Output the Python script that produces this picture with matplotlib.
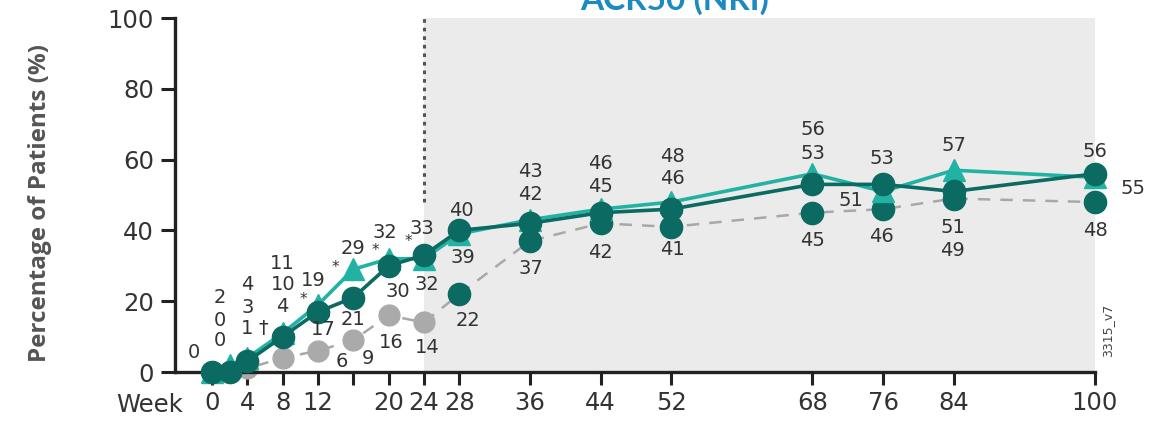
import numpy as np
import matplotlib.pyplot as plt

# ACR50 response by visit (%)
weeks = [0, 2, 4, 8, 12, 16, 20, 24, 28, 36, 44, 52, 68, 76, 84, 100]
tri_vals = [0, 2, 4, 11, 19, 29, 32, 32, 39, 43, 46, 48, 56, 51, 57, 55]
circ_vals = [0, 0, 3, 10, 17, 21, 30, 33, 40, 42, 45, 46, 53, 53, 51, 56]

pbo_weeks = [0, 2, 4, 8, 12, 16, 20, 24]
pbo_vals = [0, 0, 1, 4, 6, 9, 16, 14]

switch_weeks = [28, 36, 44, 52, 68, 76, 84, 100]
switch_vals = [22, 37, 42, 41, 45, 46, 49, 48]

xtick_pos = [0, 4, 8, 12, 16, 20, 24, 28, 36, 44, 52, 68, 76, 84, 100]
xtick_lbl = ['0', '4', '8', '12', '', '20', '24', '28', '36', '44', '52', '68', '76', '84', '100']

# label offsets in pixels from each marker (None = no label)
tri_off = [(-18, 20), (-10, 67), (0, 73), (0, 70), (-5, 24), (0, 21), (-4, 26), (3, -26),
           (4, -24), (1, 48), (0, 46), (1, 46), (0, 44), (-32, -9), (0, 25), (38, -11)]
circ_off = [None, (-10, 52), (0, 54), (0, 52), (5, -18), (0, -22), (9, -26), (-2, 27),
            (2, 20), (1, 29), (0, 26), (1, 31), (0, 31), (-1, 26), (-1, -36), (0, 22)]
pbo_off = [None, (-10, 31), (0, 40), (0, 51), (24, -11), (15, -18), (3, -27), (3, -25)]
switch_off = [(9, -26), (1, -27), (0, -29), (1, -23), (0, -28), (-2, -27), (-1, -52), (0, -28)]

# significance marks: (week, value, dx, dy, symbol)
marks = [(12, 19, -15, 5, '*'), (16, 29, -18, 2, '*'), (20, 32, -13, 8, '*'),
         (24, 33, -16, 14, '*'), (4, 1, 16, 40, '†')]

TEAL = '#22b2a3'
DARK = '#0b6a62'
GREY = '#aaaaaa'
TXT = '#333333'

fig = plt.figure(figsize=(11.68, 4.22), dpi=100)
ax = fig.add_axes([175 / 1168, 1 - 372 / 422, (1095 - 175) / 1168, (372 - 18) / 422])

ax.axvspan(24, 100, color='#ebebeb', zorder=0, lw=0)
ax.plot([24, 24], [48, 100], color='#555555', lw=2.2, ls=(0, (1.2, 1.6)), zorder=1)

# placebo then switch to active (dashed)
ax.plot(pbo_weeks + switch_weeks, pbo_vals + switch_vals, color='#a8a8a8', lw=1.8,
        ls=(0, (5, 4)), zorder=2, clip_on=False)
ax.plot(pbo_weeks, pbo_vals, 'o', color=GREY, ms=15, zorder=2, clip_on=False)
ax.plot(switch_weeks, switch_vals, 'o', color=DARK, ms=16, zorder=3, clip_on=False)

ax.plot(weeks, tri_vals, '^-', color=TEAL, lw=2.6, ms=16, zorder=4, clip_on=False)
ax.plot(weeks, circ_vals, 'o-', color=DARK, lw=2.6, ms=16, zorder=5, clip_on=False)


def put_labels(xs, ys, offs):
    for x, y, off in zip(xs, ys, offs):
        if off is None:
            continue
        ax.annotate(str(y), (x, y), xytext=off, textcoords='offset pixels',
                    ha='center', va='center', fontsize=14, color=TXT, zorder=6,
                    annotation_clip=False)


put_labels(weeks, tri_vals, tri_off)
put_labels(weeks, circ_vals, circ_off)
put_labels(pbo_weeks, pbo_vals, pbo_off)
put_labels(switch_weeks, switch_vals, switch_off)

for x, y, dx, dy, s in marks:
    ax.annotate(s, (x, y), xytext=(dx, dy), textcoords='offset pixels', ha='center',
                va='center', fontsize=11 if s == '*' else 14, color=TXT, zorder=6)

ax.set_xlim(-4.2, 100)
ax.set_ylim(0, 100)
ax.set_yticks([0, 20, 40, 60, 80, 100])
ax.set_xticks(xtick_pos)
ax.set_xticklabels(xtick_lbl)
ax.spines[['top', 'right']].set_visible(False)
for s in ('left', 'bottom'):
    ax.spines[s].set_linewidth(2.4)
    ax.spines[s].set_color('#222222')
ax.tick_params(axis='y', length=10, width=2.2, pad=5, labelsize=17.5, labelcolor=TXT, color='#222222')
ax.tick_params(axis='x', length=9, width=2.2, pad=5, labelsize=17.5, labelcolor=TXT, color='#222222')
ax.patch.set_visible(False)

fig.text(183 / 1168, 1 - 405 / 422, 'Week', ha='right', va='center', fontsize=17.5, color=TXT)
fig.text(40 / 1168, 1 - 203 / 422, 'Percentage of Patients (%)', rotation=90, ha='center',
         va='center', fontsize=17.5, fontweight='bold', family='Open Sans', color='#555555')
fig.text(675 / 1168, 1 - 10 / 422, 'ACR50 (NRI)', ha='center', va='baseline', fontsize=24,
         fontweight='bold', family='Lato', color='#1b8ac0')
fig.text(1108 / 1168, 1 - 330 / 422, '3315_v7', rotation=90, ha='center', va='center',
         fontsize=9, color='#444444')

fig.savefig('out.png', dpi=100)
